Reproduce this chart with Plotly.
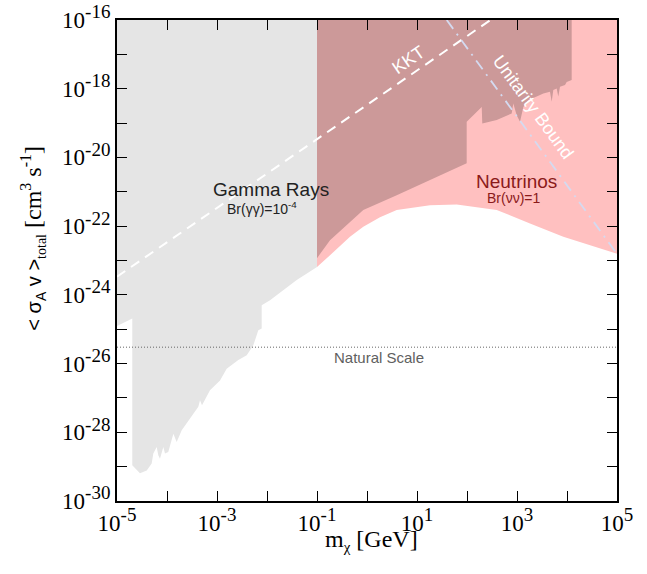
import math
import plotly.graph_objects as go

# ---------------- data ----------------
# Gamma-ray excluded region: lower boundary (mass [GeV], <sigma v> [cm^3/s])
gamma_mass = [1.0e-5, 2.02e-5, 2.02e-5, 2.88e-5, 3.93e-5, 4.94e-5, 5.32e-5, 6.22e-5,
              6.70e-5, 7.24e-5, 8.43e-5, 9.12e-5, 1.06e-4, 1.34e-4, 1.56e-4, 1.97e-4,
              2.48e-4, 4.23e-4, 4.57e-4, 5.01e-4, 7.24e-4, 1.15e-3, 1.56e-3, 2.67e-3,
              3.93e-3, 5.32e-3, 6.70e-3, 7.83e-3, 7.83e-3, 1.15e-2, 3.93e-2, 0.1]
gamma_sigma = [1.25e-25, 2.04e-25, 1.10e-29, 6.46e-30, 7.76e-30, 1.23e-29, 2.40e-29, 3.72e-29,
               2.14e-29, 1.70e-29, 3.72e-29, 2.40e-29, 2.69e-29, 9.12e-29, 5.25e-29, 1.15e-28,
               1.78e-28, 5.50e-28, 8.51e-28, 6.17e-28, 1.66e-27, 3.24e-27, 7.08e-27, 1.26e-26,
               1.74e-26, 3.39e-26, 9.33e-26, 1.05e-25, 5.01e-25, 6.92e-25, 2.69e-24, 6.46e-24]

# Neutrino bound (lower edge of the pink region)
nu_mass = [0.1, 0.182, 0.457, 0.843, 1.82, 3.93, 18.2, 62.2, 393.0, 1820.0, 8430.0, 1.0e5]
nu_sigma = [6.46e-24, 1.41e-23, 4.90e-23, 9.55e-23, 1.82e-22, 2.95e-22, 4.07e-22, 4.27e-22,
            2.95e-22, 1.20e-22, 4.90e-23, 1.58e-23]

# Overlap region (gamma rays above 0.1 GeV) lower boundary
overlap_mass = [0.1, 0.182, 0.843, 3.93, 18.2, 98.6, 98.6, 197.0, 202.0, 393.0, 783.0,
                843.0, 986.0, 1150.0, 1340.0, 1680.0, 2480.0, 3360.0, 4570.0, 4940.0,
                5320.0, 6220.0, 6700.0, 7240.0, 9120.0, 9860.0, 12400.0]
overlap_sigma = [1.17e-23, 3.89e-23, 2.95e-22, 7.94e-22, 2.19e-21, 6.76e-21, 1.10e-19,
                 2.95e-19, 9.77e-20, 1.23e-19, 1.91e-19, 3.72e-19, 1.70e-19, 1.10e-19,
                 2.95e-19, 4.68e-19, 5.89e-19, 7.24e-19, 8.13e-19, 4.17e-19, 9.12e-19,
                 1.02e-18, 5.89e-19, 1.15e-18, 1.29e-18, 1.58e-18, 1.78e-18]

kkt_mass = [1.0e-5, 295.0]
kkt_sigma = [3.39e-24, 1.0e-16]

unitarity_mass = [39.3, 1.0e5]
unitarity_sigma = [1.0e-16, 1.55e-23]

natural_mass = [1.0e-5, 1.0e5]
natural_sigma = [3.0e-26, 3.0e-26]

x_exponents = list(range(-5, 6))
y_exponents = list(range(-30, -15))


def sci(e):
    return f"10<sup><span style='font-size:19px'>{e}</span></sup>"


x_ticktext = [sci(e) if e % 2 != 0 else "" for e in x_exponents]
y_ticktext = [sci(e) if e % 2 == 0 else "" for e in y_exponents]

M_MIN, M_MAX = 1.0e-5, 1.0e5
S_TOP = 1.0e-16

# ---------------- figure ----------------
fig = go.Figure()

# gamma-ray region (grey)
gx = [M_MIN, gamma_mass[-1]] + gamma_mass[::-1]
gy = [S_TOP, S_TOP] + gamma_sigma[::-1]
fig.add_trace(go.Scatter(x=gx, y=gy, fill="toself", mode="lines",
                         line=dict(width=0), fillcolor="#E5E5E5", hoverinfo="skip"))

# neutrino region (pink)
px_ = [nu_mass[0], nu_mass[-1]] + nu_mass[::-1]
py_ = [S_TOP, S_TOP] + nu_sigma[::-1]
fig.add_trace(go.Scatter(x=px_, y=py_, fill="toself", mode="lines",
                         line=dict(width=0), fillcolor="#FFC0C0", hoverinfo="skip"))

# overlap region (dark mauve)
ox = [overlap_mass[0]] + overlap_mass + [overlap_mass[-1]]
oy = [S_TOP] + overlap_sigma + [S_TOP]
fig.add_trace(go.Scatter(x=ox, y=oy, fill="toself", mode="lines",
                         line=dict(width=0), fillcolor="#CC9999", hoverinfo="skip"))

# natural scale
fig.add_trace(go.Scatter(x=natural_mass, y=natural_sigma, mode="lines",
                         line=dict(color="#666666", width=1, dash="1px,2px"), hoverinfo="skip"))
# KKT
fig.add_trace(go.Scatter(x=kkt_mass, y=kkt_sigma, mode="lines",
                         line=dict(color="white", width=2, dash="10px,7px"), hoverinfo="skip"))
# Unitarity bound
fig.add_trace(go.Scatter(x=unitarity_mass, y=unitarity_sigma, mode="lines",
                         line=dict(color="#D4DAF0", width=1.8, dash="11px,6px,2px,6px"),
                         hoverinfo="skip"))

sans = "Liberation Sans, Arial, sans-serif"
serif = "Liberation Serif, Times New Roman, serif"
L = math.log10


def ann(text, m, s, size, color, angle=0, family=sans):
    fig.add_annotation(x=L(m), y=L(s), xref="x", yref="y", text=text, showarrow=False,
                       xanchor="center", yanchor="middle",
                       textangle=angle, font=dict(family=family, size=size, color=color))


ann("Gamma Rays", 0.0119, 1.2e-21, 19, "#222222")
ann("Br(γγ)=10<sup>-4</sup>", 0.0081, 3.4e-22, 14, "#222222")
ann("Neutrinos", 955.0, 1.95e-21, 19, "#8B1A1A")
ann("Br(νν)=1", 871.0, 6.6e-22, 14, "#8B1A1A")
ann("Natural Scale", 1.74, 1.55e-26, 15, "#606060")
ann("KKT", 6.7, 6.8e-18, 18, "white", angle=-34.5)
ann("Unitarity Bound", 2120.0, 2.99e-19, 18, "white", angle=53.9)

# axis titles (positions as fractions of the plot area: x 117..617 px, y 20..500.7 px)
fig.add_annotation(
    x=(371 - 117) / 500.0, y=(500.7 - 540) / 480.7, xref="paper", yref="paper",
    xanchor="center", yanchor="middle",
    text="m<sub><span style='font-size:15px'>χ</span></sub> [GeV]", showarrow=False,
    font=dict(family=serif, size=24, color="black"))

fig.add_annotation(
    x=(33 - 117) / 500.0, y=(500.7 - 238.5) / 480.7, xref="paper", yref="paper",
    xanchor="center", yanchor="middle",
    textangle=-90, showarrow=False,
    text=("<span style='font-family:Liberation Sans;font-size:20px'>&lt; σ<sub>"
          "<span style='font-size:14px'>A</span></sub> v &gt;</span>"
          "<sub><span style='font-size:14px'>total</span></sub>"
          " [cm<sup><span style='font-size:16px'>3</span></sup> "
          "s<sup><span style='font-size:16px'>-1</span></sup>]"),
    font=dict(family=serif, size=24, color="black"))

axis_common = dict(type="log", showgrid=False, zeroline=False, showline=True,
                   linecolor="black", linewidth=2, mirror="ticks", ticks="inside",
                   ticklen=10, tickwidth=1, tickcolor="black", automargin=False,
                   ticklabeloverflow="allow",
                   tickfont=dict(family=serif, size=23, color="black"))

fig.update_layout(
    width=647, height=574,
    margin=dict(l=117, r=30, t=20, b=73.3),
    paper_bgcolor="white", plot_bgcolor="white",
    showlegend=False,
    xaxis=dict(range=[-5, 5], tickvals=[10.0 ** e for e in x_exponents],
               ticktext=x_ticktext, **axis_common),
    yaxis=dict(range=[-30, -16], tickvals=[10.0 ** e for e in y_exponents],
               ticktext=y_ticktext, **axis_common),
)

# remove the default page margin so figure pixels coincide with window pixels
fig.write_html("out.html", config={"displayModeBar": False},
               post_script="document.body.style.margin='0px';")
